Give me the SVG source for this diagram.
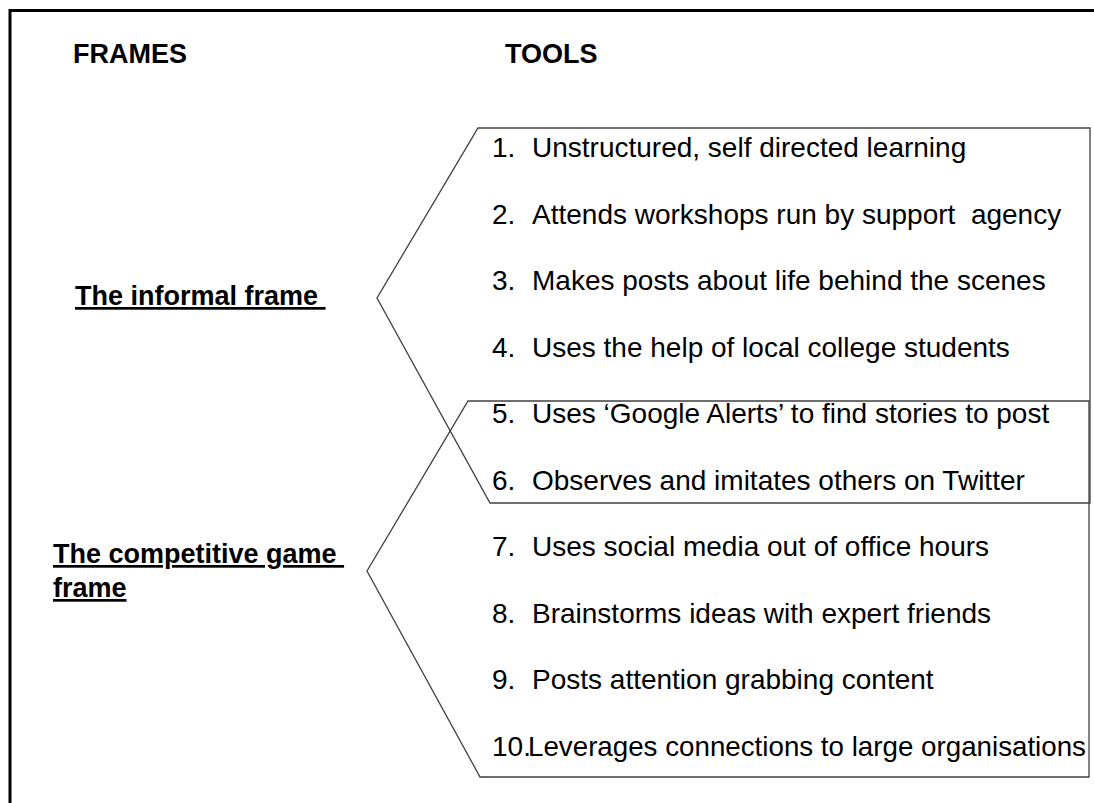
<svg xmlns="http://www.w3.org/2000/svg" width="1094" height="803" viewBox="0 0 1094 803">
  <style>
    .head { font-family: "Liberation Sans", Arial, sans-serif; font-weight: bold; font-size: 27px; fill: #000; }
    .frame { font-family: "Liberation Sans", Arial, sans-serif; font-weight: bold; font-size: 27px; fill: #000; text-decoration: underline; white-space: pre; }
    .item { font-family: "Liberation Sans", Arial, sans-serif; font-size: 28px; fill: #000; }
    .border { stroke: #000; stroke-width: 3; fill: none; }
    .bracket { stroke: #404040; stroke-width: 1.3; fill: none; stroke-linejoin: miter; }
  </style>

  <rect width="1094" height="803" fill="#fff"/>

  <!-- outer page edge (top and left) -->
  <path class="border" d="M10,803 V10.5 H1094"/>

  <!-- column headings -->
  <g id="heading-frames"><text class="head" x="73" y="63">FRAMES</text></g>
  <g id="heading-tools"><text class="head" x="505" y="63">TOOLS</text></g>

  <!-- frames -->
  <g id="frame-informal">
    <text class="frame" x="75" y="305" xml:space="preserve">The informal frame </text>
  </g>
  <g id="frame-competitive">
    <text class="frame" x="53" y="563" xml:space="preserve">The competitive game </text>
    <text class="frame" x="53" y="597">frame</text>
  </g>

  <!-- brackets joining each frame to its tools -->
  <g id="connectors">
    <path class="bracket" d="M1090,128 H478 L377,298 L490,503 H1090 Z"/>
    <path class="bracket" d="M1089,401 H468 L367,571 L480,777 H1089 Z"/>
  </g>

  <!-- tools list -->
  <g id="tools">
    <g id="tool-1"><text class="item" x="492" y="157">1.</text><text class="item" x="532" y="157">Unstructured, self directed learning</text></g>
    <g id="tool-2"><text class="item" x="492" y="224">2.</text><text class="item" x="532" y="224" xml:space="preserve">Attends workshops run by support  agency</text></g>
    <g id="tool-3"><text class="item" x="492" y="290">3.</text><text class="item" x="532" y="290">Makes posts about life behind the scenes</text></g>
    <g id="tool-4"><text class="item" x="492" y="357">4.</text><text class="item" x="532" y="357">Uses the help of local college students</text></g>
    <g id="tool-5"><text class="item" x="492" y="423">5.</text><text class="item" x="532" y="423">Uses ‘Google Alerts’ to find stories to post</text></g>
    <g id="tool-6"><text class="item" x="492" y="490">6.</text><text class="item" x="532" y="490">Observes and imitates others on Twitter</text></g>
    <g id="tool-7"><text class="item" x="492" y="556">7.</text><text class="item" x="532" y="556">Uses social media out of office hours</text></g>
    <g id="tool-8"><text class="item" x="492" y="623">8.</text><text class="item" x="532" y="623">Brainstorms ideas with expert friends</text></g>
    <g id="tool-9"><text class="item" x="492" y="689">9.</text><text class="item" x="532" y="689">Posts attention grabbing content</text></g>
    <g id="tool-10"><text class="item" x="492" y="756">10.</text><text class="item" x="528" y="756" textLength="558" lengthAdjust="spacingAndGlyphs">Leverages connections to large organisations</text></g>
  </g>
</svg>
